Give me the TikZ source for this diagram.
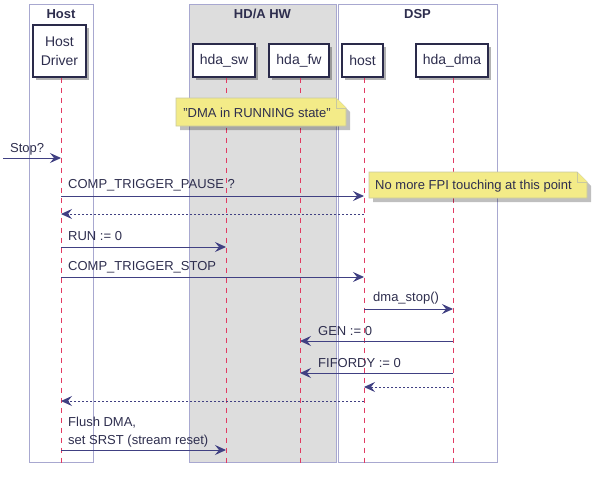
\documentclass[tikz,border=0pt]{standalone}
\usepackage{fontspec}
\setmainfont{Liberation Sans}
\usetikzlibrary{arrows.meta,shadows}
\definecolor{grpline}{HTML}{A8A8D0}
\definecolor{grpfill}{HTML}{DDDDDD}
\definecolor{partline}{HTML}{2A2A4A}
\definecolor{lifecol}{HTML}{E23A62}
\definecolor{arrcol}{HTML}{404082}
\definecolor{txtcol}{HTML}{2E2E4E}
\definecolor{notefill}{HTML}{F3EB88}
\definecolor{noteline}{HTML}{C8C8A0}
\tikzset{
  grp/.style={draw=grpline, line width=0.9pt},
  grptitle/.style={font=\fontsize{13}{15}\selectfont\bfseries, text=txtcol, anchor=center},
  part/.style={draw=partline, line width=1.3pt, fill=white, text=txtcol,
    font=\fontsize{14}{19}\selectfont, align=center, inner sep=0pt,
    drop shadow={shadow xshift=3pt, shadow yshift=-3pt, fill=black, opacity=0.3}},
  life/.style={draw=lifecol, line width=0.8pt, dash pattern=on 5pt off 5pt},
  msg/.style={draw=arrcol, line width=1pt, -{Stealth[length=11pt,width=10pt,inset=4pt]}},
  ret/.style={msg, dash pattern=on 2pt off 2pt},
  lbl/.style={font=\fontsize{13}{17}\selectfont, text=txtcol, anchor=west, inner sep=0pt},
  notetxt/.style={font=\fontsize{13}{17}\selectfont, text=txtcol, inner sep=0pt},
}
\begin{document}
\begin{tikzpicture}[x=1pt,y=-1pt]
\useasboundingbox (0,0) rectangle (599,479);
% groups
\draw[grp] (29,4) rectangle (93,462);
\draw[grp, fill=grpfill] (189,4) rectangle (336,462);
\draw[grp] (338,4) rectangle (497,462);
\node[grptitle] (gHost) at (61,14) {Host};
\node[grptitle] (gHW) at (262.5,14) {HD/A HW};
\node[grptitle] (gDSP) at (417.5,14) {DSP};
% participants
\node[part, minimum width=53pt, minimum height=52pt] (hd) at (59.5,51) {Host\\Driver};
\node[part, minimum width=62pt, minimum height=33pt] (sw) at (224,60.5) {hda\_sw};
\node[part, minimum width=60pt, minimum height=33pt] (fw) at (299,60.5) {hda\_fw};
\node[part, minimum width=41pt, minimum height=33pt] (hs) at (362.5,60.5) {host};
\node[part, minimum width=72pt, minimum height=33pt] (dma) at (452,60.5) {hda\_dma};
% lifelines
\coordinate (lhd) at (61,467);
\coordinate (lsw) at (226,467);
\coordinate (lfw) at (300,467);
\coordinate (lhs) at (364,467);
\coordinate (ldma) at (453,467);
\draw[life] (lhd |- hd.south) -- (lhd);
\draw[life] (lsw |- sw.south) -- (lsw);
\draw[life] (lfw |- fw.south) -- (lfw);
\draw[life] (lhs |- hs.south) -- (lhs);
\draw[life] (ldma |- dma.south) -- (ldma);
% note 1
\fill[black, opacity=0.25] (180,102) -- (340,102) -- (350,112) -- (350,130) -- (180,130) -- cycle;
\draw[draw=noteline, fill=notefill, line width=0.8pt] (176,98) -- (336,98) -- (346,108) -- (346,126) -- (176,126) -- cycle;
\draw[draw=noteline, fill=notefill, line width=0.8pt] (336,98) -- (336,108) -- (346,108);
\node[notetxt] (n1) at (257,112.5) {"DMA in RUNNING state"};
% messages
\coordinate (start) at (3,158);
\draw[msg] (start) -- (lhd |- 0,158);
\node[lbl] (m0) at (10,149) {Stop?};
\draw[msg] (lhd |- 0,196) -- (lhs |- 0,196);
\node[lbl] (m1) at (68,185) {COMP\_TRIGGER\_PAUSE ?};
% note 2
\fill[black, opacity=0.25] (373,176) -- (581,176) -- (591,186) -- (591,202) -- (373,202) -- cycle;
\draw[draw=noteline, fill=notefill, line width=0.8pt] (369,172) -- (577,172) -- (587,182) -- (587,198) -- (369,198) -- cycle;
\draw[draw=noteline, fill=notefill, line width=0.8pt] (577,172) -- (577,182) -- (587,182);
\node[notetxt, anchor=west] (n2) at (375,186) {No more FPI touching at this point};
\draw[ret] (lhs |- 0,214) -- (lhd |- 0,214);
\draw[msg] (lhd |- 0,247) -- (lsw |- 0,247);
\node[lbl] (m2) at (68,236) {RUN := 0};
\draw[msg] (lhd |- 0,277) -- (lhs |- 0,277);
\node[lbl] (m3) at (68,267) {COMP\_TRIGGER\_STOP};
\draw[msg] (lhs |- 0,309) -- (ldma |- 0,309);
\node[lbl] (m4) at (373,298) {dma\_stop()};
\draw[msg] (ldma |- 0,341) -- (lfw |- 0,341);
\node[lbl] (m5) at (318,331) {GEN := 0};
\draw[msg] (ldma |- 0,373) -- (lfw |- 0,373);
\node[lbl] (m6) at (318,363) {FIFORDY := 0};
\draw[ret] (ldma |- 0,387) -- (lhs |- 0,387);
\draw[ret] (lhs |- 0,401) -- (lhd |- 0,401);
\draw[msg] (lhd |- 0,450) -- (lsw |- 0,450);
\node[lbl] (m7a) at (68,423) {Flush DMA,};
\node[lbl] (m7b) at (68,441) {set SRST (stream reset)};
\end{tikzpicture}
\end{document}
